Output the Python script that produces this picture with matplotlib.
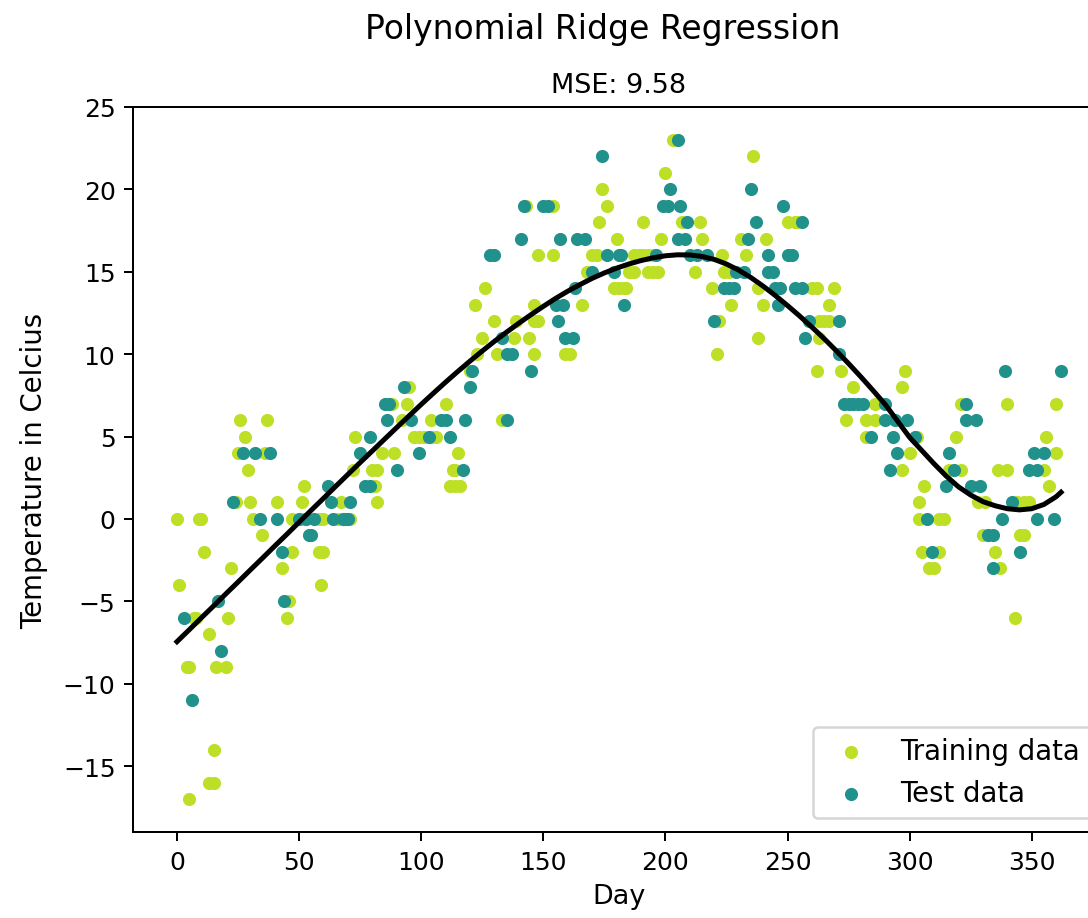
import matplotlib
matplotlib.use("Agg")
import matplotlib.pyplot as plt
import numpy as np

# Daily temperatures (day of year, degrees Celsius)
train_day = [0, 1, 9, 10, 11, 22, 7, 8, 21, 13, 4, 5, 16, 20, 15, 13, 15, 5,
             26, 37, 28, 25, 29, 24, 30, 31, 35,
             36, 73, 72, 52, 41, 51, 67,
             47, 52, 58, 60, 66, 71,
             47, 58, 60, 43, 59, 46, 45,
             95, 88, 94, 110, 92, 104, 97, 99, 101, 104,
             84, 89, 80, 82, 81, 82,
             143, 126, 122, 146, 130, 139, 146, 125, 138, 144, 123, 131, 146, 120, 133, 106, 115,
             113, 114, 112, 114, 116,
             174, 176, 173, 154, 180, 148, 154, 170, 172, 168, 179, 183, 166, 148, 159, 161,
             203, 200, 191, 207, 214, 198, 215, 187, 189, 191, 193, 195, 185, 187, 193, 195, 197, 212, 181, 184, 219,
             236, 250, 253, 231, 241, 223, 233, 224, 226, 238, 227, 240, 222, 238, 221,
             254, 260, 262, 269, 267, 263, 265, 267, 263, 262, 272, 277, 286, 274, 282, 286, 282,
             298, 297, 321, 303, 319, 300, 297, 316, 321, 306, 304, 328, 331, 304, 312, 314, 330, 305, 312, 308, 310,
             340, 360, 356, 360, 336, 340, 355, 357, 344, 347, 349, 345, 347, 335, 337, 343]
train_temp = [0, -4, 0, 0, -2, -3, -6, -6, -6, -7, -9, -9, -9, -9, -14, -16, -16, -17,
              6, 6, 5, 4, 3, 1, 1, 0, -1,
              4, 5, 3, 2, 1, 1, 1,
              0, 0, 0, 0, 0, 0,
              -2, -2, -2, -3, -4, -5, -6,
              8, 7, 7, 7, 6, 6, 5, 5, 5, 5,
              4, 4, 3, 3, 2, 1,
              19, 14, 13, 13, 12, 12, 12, 11, 11, 11, 10, 10, 10, 9, 6, 5, 4,
              3, 3, 2, 2, 2,
              20, 19, 18, 19, 17, 16, 16, 16, 16, 15, 14, 14, 13, 12, 10, 10,
              23, 21, 18, 18, 18, 17, 17, 16, 16, 16, 16, 16, 15, 15, 15, 15, 15, 15, 14, 14, 14,
              22, 18, 18, 17, 17, 16, 16, 15, 15, 14, 13, 13, 12, 11, 10,
              18, 14, 14, 14, 13, 12, 12, 12, 11, 9, 9, 8, 7, 6, 6, 6, 5,
              9, 8, 7, 5, 5, 4, 3, 3, 3, 2, 1, 1, 1, 0, 0, 0, -1, -2, -2, -3, -3,
              7, 7, 5, 4, 3, 3, 3, 2, 1, 1, 1, -1, -1, -2, -3, -6]

test_day = [17, 3, 18, 6, 23, 34, 27, 32, 38, 62, 63, 71, 41, 50, 53, 56, 64, 68, 69, 54, 55, 43, 44,
            93, 85, 87, 86, 96, 108, 110, 79, 75, 99, 90, 77, 79, 70, 103,
            142, 141, 128, 130, 133, 135, 137, 121, 145, 120, 118, 135, 112, 117,
            174, 150, 152, 157, 164, 167, 176, 181, 170, 179, 163, 155, 158, 183, 156, 159, 162,
            205, 202, 199, 201, 206, 209, 205, 208, 182, 196, 210, 213, 217,
            235, 248, 237, 256, 234, 242, 250, 252, 229, 232, 242, 244, 224, 226, 228, 245, 247, 253, 256, 246, 220, 257,
            259, 271, 271, 273, 275, 277, 279, 281, 290, 290, 294, 284, 293,
            323, 299, 323, 327, 302, 295, 316, 292, 318, 315, 325, 329, 307, 332, 309,
            339, 362, 351, 355, 349, 352, 342, 338, 352, 359, 334, 345, 334]
test_temp = [-5, -6, -8, -11, 1, 0, 4, 4, 4, 2, 1, 1, 0, 0, 0, 0, 0, 0, 0, -1, -1, -2, -5,
             8, 7, 7, 6, 6, 6, 6, 5, 4, 4, 3, 2, 2, 0, 5,
             19, 17, 16, 16, 11, 10, 10, 9, 9, 8, 6, 6, 5, 3,
             22, 19, 19, 17, 17, 17, 16, 16, 15, 15, 14, 13, 13, 13, 12, 11, 11,
             23, 20, 19, 19, 19, 18, 17, 17, 16, 16, 16, 16, 16,
             20, 19, 18, 18, 17, 16, 16, 16, 15, 15, 15, 15, 14, 14, 14, 14, 14, 14, 14, 13, 12, 11,
             12, 12, 10, 7, 7, 7, 7, 7, 7, 6, 6, 5, 5,
             7, 6, 6, 6, 5, 4, 4, 3, 3, 2, 2, 2, 0, -1, -2,
             9, 9, 4, 4, 3, 3, 1, 0, 0, 0, -1, -2, -3]

# Fitted polynomial ridge model, sampled every 5 days
fit_day = [0, 5, 10, 15, 20, 25, 30, 35, 40, 45, 50, 55, 60, 65, 70, 75, 80, 85, 90, 95,
           100, 105, 110, 115, 120, 125, 130, 135, 140, 145, 150, 155, 160, 165, 170, 175,
           180, 185, 190, 195, 200, 205, 210, 215, 220, 225, 230, 235, 240, 245, 250, 255,
           260, 265, 270, 275, 280, 285, 290, 295, 300, 305, 310, 315, 320, 325, 330, 335,
           340, 345, 350, 355, 360, 362]
fit_temp = [-7.45, -6.73, -6.0, -5.28, -4.55, -3.83, -3.1, -2.38, -1.65, -0.93,
            -0.2, 0.53, 1.25, 1.98, 2.7, 3.42, 4.13, 4.84, 5.55, 6.25,
            6.95, 7.63, 8.3, 8.95, 9.58, 10.19, 10.78, 11.34, 11.88, 12.4,
            12.9, 13.38, 13.82, 14.22, 14.6, 14.93, 15.22, 15.47, 15.68, 15.85,
            15.97, 16.03, 16.02, 15.93, 15.75, 15.47, 15.1, 14.65, 14.13, 13.56,
            12.95, 12.31, 11.64, 10.94, 10.2, 9.43, 8.63, 7.8, 6.95, 5.95,
            4.95, 4.15, 3.35, 2.6, 1.95, 1.45, 1.05, 0.8, 0.62, 0.55,
            0.62, 0.88, 1.35, 1.62]

mse_text = "MSE: 9.58"
title_text = "Polynomial Ridge Regression"

TRAIN_COLOR = "#bddf26"
TEST_COLOR = "#21918c"

W, H, DPI = 1088, 919, 180
fig = plt.figure(figsize=(W / DPI, H / DPI), dpi=DPI)
ax = fig.add_axes([133 / W, 1 - 833 / H, (1105 - 133) / W, (833 - 108) / H])

ax.scatter(train_day, train_temp, s=18, color=TRAIN_COLOR, label="Training data", zorder=2)
ax.scatter(test_day, test_temp, s=18, color=TEST_COLOR, label="Test data", zorder=2)
ax.plot(fit_day, fit_temp, color="black", lw=2.0, zorder=3)

ax.set_xlim(-18, 380)
ax.set_ylim(-19, 25)
ax.set_xticks([0, 50, 100, 150, 200, 250, 300, 350])
ax.set_yticks([-15, -10, -5, 0, 5, 10, 15, 20, 25])
ax.tick_params(labelsize=10)
ax.set_xlabel("Day", fontsize=10.8)
ax.set_ylabel("Temperature in Celcius", fontsize=11, labelpad=6)
ax.set_title(mse_text, fontsize=10.8)
fig.suptitle(title_text, x=603 / W, y=1 - 13 / H, fontsize=13.2)
ax.legend(loc="lower right", fontsize=11)

fig.savefig("out.png", dpi=DPI)
